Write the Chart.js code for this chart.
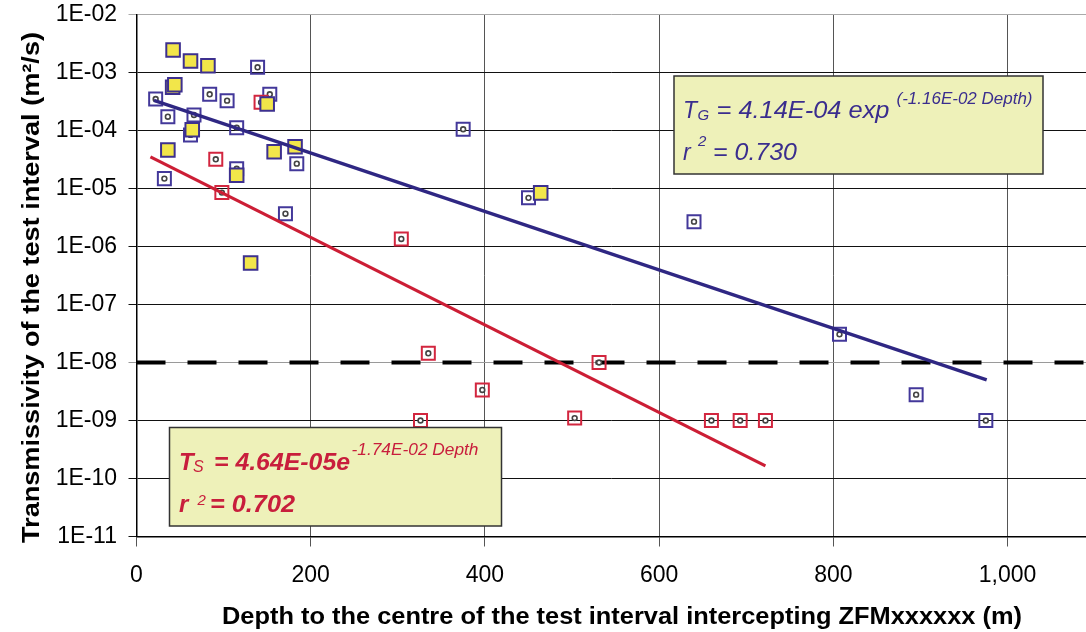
<!DOCTYPE html>
<html>
<head>
<meta charset="utf-8">
<script src="https://cdn.jsdelivr.net/npm/chart.js@4.4.1/dist/chart.umd.min.js"></script>
<style>
  html, body { margin: 0; padding: 0; background: #fff; }
</style>
</head>
<body>
<canvas id="chart" width="1086" height="632"></canvas>
<script>
// Depth (m) / transmissivity (m2/s)
const blueDepth = [139, 22, 84, 104, 153, 36, 66, 62, 115, 184, 32, 115, 171, 375, 450, 640, 807, 895, 975];
const blueT = [1.23e-3, 3.49e-4, 4.21e-4, 3.27e-4, 4.21e-4, 1.73e-4, 1.85e-4, 8.4e-5, 1.12e-4, 2.68e-5,
               1.48e-5, 2.19e-5, 3.68e-6, 1.05e-4, 6.9e-6, 2.68e-6, 3.06e-8, 2.79e-9, 1.0e-9];

const redDepth = [143, 91, 98, 304, 335, 531, 397, 326, 503, 660, 693, 722];
const redT = [3.06e-4, 3.19e-5, 8.5e-6, 1.35e-6, 1.44e-8, 1.0e-8, 3.36e-9, 1.0e-9, 1.1e-9, 1.0e-9, 1.0e-9, 1.0e-9];

const yellowDepth = [42, 62, 82, 41.5, 44, 150, 64, 36, 158, 182, 115, 131, 464];
const yellowT = [2.44e-3, 1.58e-3, 1.31e-3, 5.56e-4, 6.17e-4, 2.86e-4, 1.03e-4, 4.61e-5, 4.31e-5, 5.26e-5,
                 1.69e-5, 5.2e-7, 8.4e-6];

// fitted exponentials (straight on the log axis): end points
const fitGDepth = [20, 976];
const fitGT = [3.3e-4, 5.0e-9];
const fitSDepth = [16, 722];
const fitST = [3.5e-5, 1.65e-10];

// 1E-08 threshold
const limitDepth = [0, 1090];
const limitT = [1e-8, 1e-8];

const xTicks = [0, 200, 400, 600, 800, 1000];
const yTicks = [1e-2, 1e-3, 1e-4, 1e-5, 1e-6, 1e-7, 1e-8, 1e-9, 1e-10, 1e-11];

const xTitle = 'Depth to the centre of the test interval intercepting ZFMxxxxxx (m)';
const yTitle = 'Transmissivity of the test interval (m\u00B2/s)';

const blue = '#43389a';
const red = '#d2263f';
const yellow = '#f2e64a';
const boxFill = '#eef1b9';
const FONT = "'Liberation Sans', Arial, sans-serif";

const pts = (xs, ys) => xs.map((x, i) => ({ x: x, y: ys[i] }));
const decade = v => Math.round(Math.log10(v));

// text stretched to the width it has in the picture
function put(c, s, x, y, font, color, w) {
  c.save();
  c.font = font;
  c.fillStyle = color;
  c.textAlign = 'left';
  c.textBaseline = 'alphabetic';
  const k = w ? w / c.measureText(s).width : 1;
  c.translate(x, y);
  c.scale(k, 1);
  c.fillText(s, 0, 0);
  c.restore();
}

function box(c, x, y, w, h) {
  c.save();
  c.fillStyle = boxFill;
  c.fillRect(x, y, w, h);
  c.strokeStyle = '#333';
  c.lineWidth = 1.5;
  c.strokeRect(x, y, w, h);
  c.restore();
}

const notes = {
  id: 'notes',
  afterDraw(chart) {
    const c = chart.ctx;
    const bl = '#3a2d8e', rd = '#c81e3c';

    // T_G box
    box(c, 674, 76, 369, 98);
    put(c, 'T', 683, 117.5, 'italic 23px ' + FONT, bl);
    put(c, 'G', 697.5, 120, 'italic 15px ' + FONT, bl);
    put(c, '= 4.14E-04 exp', 716.5, 117.5, 'italic 23px ' + FONT, bl, 173);
    put(c, '(-1.16E-02 Depth)', 896.5, 103.5, 'italic 16px ' + FONT, bl, 136);
    put(c, 'r', 683, 160, 'italic 23px ' + FONT, bl);
    put(c, '2', 698, 146, 'italic 15px ' + FONT, bl);
    put(c, '= 0.730', 713, 160, 'italic 23px ' + FONT, bl, 84);

    // T_S box
    box(c, 169.5, 427.5, 332, 98.5);
    put(c, 'T', 179, 470, 'bold italic 24px ' + FONT, rd);
    put(c, 'S', 193, 472, 'italic 16px ' + FONT, rd);
    put(c, '= 4.64E-05e', 214, 470, 'bold italic 24px ' + FONT, rd, 136);
    put(c, '-1.74E-02 Depth', 351.5, 455, 'italic 16px ' + FONT, rd, 127);
    put(c, 'r', 179, 511.5, 'bold italic 24px ' + FONT, rd);
    put(c, '2', 197.5, 505, 'italic 15px ' + FONT, rd);
    put(c, '= 0.702', 210, 511.5, 'bold italic 24px ' + FONT, rd, 85);

    // axis titles
    put(c, xTitle, 222, 624, 'bold 24px ' + FONT, '#000', 800);
    c.save();
    c.translate(39, 543);
    c.rotate(-Math.PI / 2);
    put(c, yTitle, 0, 0, 'bold 24px ' + FONT, '#000', 511);
    c.restore();
  }
};

const squares = (color, r) => ({
  pointStyle: 'rect', pointRadius: r, borderWidth: 2,
  borderColor: color, backgroundColor: 'rgba(255,255,255,0)', showLine: false
});
const dots = {
  pointStyle: 'circle', pointRadius: 2.4, borderWidth: 1.6,
  borderColor: '#444', backgroundColor: '#fff', showLine: false
};

new Chart(document.getElementById('chart'), {
  type: 'scatter',
  data: {
    datasets: [
      { data: pts(limitDepth, limitT), showLine: true, borderColor: '#000', borderWidth: 4,
        borderDash: [29, 22], pointRadius: 0, order: 9 },
      { data: pts(blueDepth, blueT), ...squares(blue, 9.2), order: 8 },
      { data: pts(blueDepth, blueT), ...dots, order: 7 },
      { data: pts(redDepth, redT), ...squares(red, 9.2), order: 6 },
      { data: pts(redDepth, redT), ...dots, order: 5 },
      { data: pts(yellowDepth, yellowT), pointStyle: 'rect', pointRadius: 9.6, borderWidth: 2,
        borderColor: '#3d308f', backgroundColor: yellow, showLine: false, order: 4 },
      { data: pts(fitGDepth, fitGT), showLine: true, borderColor: '#2f2783', borderWidth: 3.4,
        pointRadius: 0, order: 2 },
      { data: pts(fitSDepth, fitST), showLine: true, borderColor: '#cc1e35', borderWidth: 3.2,
        pointRadius: 0, order: 1 }
    ]
  },
  options: {
    responsive: false,
    animation: false,
    events: [],
    devicePixelRatio: 1,
    layout: { autoPadding: false, padding: { top: 14.5, left: 0, right: 0, bottom: 0 } },
    plugins: { legend: { display: false }, tooltip: { enabled: false } },
    scales: {
      x: {
        type: 'linear', min: 0, max: 1090,
        afterBuildTicks: s => { s.ticks = xTicks.map(v => ({ value: v })); },
        afterFit: s => { s.height = 95.5; s.paddingLeft = 0; s.paddingRight = 0; },
        ticks: {
          color: '#000', padding: 15, font: { family: FONT, size: 23 },
          callback: v => v.toLocaleString('en-US')
        },
        grid: { color: '#555', lineWidth: 1, tickLength: 10 },
        border: { color: '#000', width: 1.5 }
      },
      y: {
        type: 'logarithmic', min: 1e-11, max: 1e-2,
        afterBuildTicks: s => { s.ticks = yTicks.map(v => ({ value: v })); },
        afterFit: s => { s.width = 136.5; s.paddingTop = 0; s.paddingBottom = 0; },
        ticks: {
          color: '#000', padding: 11.5, font: { family: FONT, size: 23 },
          callback: v => '1E-' + String(-decade(v)).padStart(2, '0')
        },
        grid: {
          lineWidth: 1, tickLength: 8,
          color: ctx => {
            const d = decade(ctx.tick.value);
            return d === -8 ? '#9a9a9a' : (d === -2 ? '#aaa' : '#111');
          }
        },
        border: { color: '#000', width: 1.5 }
      }
    }
  },
  plugins: [notes]
});
</script>
</body>
</html>
